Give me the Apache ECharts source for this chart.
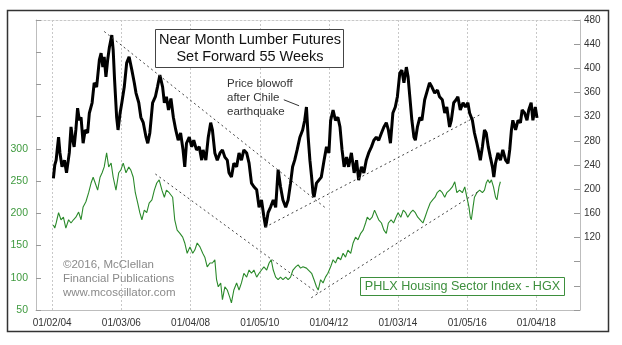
<!DOCTYPE html>
<html><head><meta charset="utf-8">
<script src="https://cdn.jsdelivr.net/npm/echarts@6/dist/echarts.min.js"></script>
<style>html,body{margin:0;padding:0;background:#fff}#c{width:622px;height:345px}</style>
</head><body><div id="c"></div>
<script>
const FONT = '"Liberation Sans", Arial, sans-serif';
const tickLabels = ['01/02/04','01/03/06','01/04/08','01/05/10','01/04/12','01/03/14','01/05/16','01/04/18'];
const tickYears = [2004.003, 2006.005, 2008.008, 2010.011, 2012.008, 2014.005, 2016.011, 2018.008];
const leftTicksLabelled = [50, 100, 150, 200, 250, 300];
const rightTicksLabelled = [120, 160, 200, 240, 280, 320, 360, 400, 440, 480];

// Near month lumber futures, set forward 55 weeks (right axis)
const lumber = [[2004.04,218],[2004.08,240],[2004.12,248],[2004.15,265],[2004.19,286],[2004.23,260],[2004.29,237],[2004.36,248],[2004.42,227],[2004.50,260],[2004.55,303],[2004.60,281],[2004.64,270],[2004.69,298],[2004.74,334],[2004.79,314],[2004.84,319],[2004.90,276],[2004.96,298],[2005.03,293],[2005.08,326],[2005.16,343],[2005.22,376],[2005.29,369],[2005.37,414],[2005.42,425],[2005.47,402],[2005.51,419],[2005.56,386],[2005.61,414],[2005.66,435],[2005.73,455],[2005.77,430],[2005.81,381],[2005.87,319],[2005.91,298],[2005.97,326],[2006.02,343],[2006.09,369],[2006.16,409],[2006.23,419],[2006.31,397],[2006.38,376],[2006.43,359],[2006.51,343],[2006.57,319],[2006.64,310],[2006.72,286],[2006.77,276],[2006.83,293],[2006.91,343],[2006.99,353],[2007.05,369],[2007.12,389],[2007.20,369],[2007.25,343],[2007.31,353],[2007.37,331],[2007.44,350],[2007.51,319],[2007.58,298],[2007.65,281],[2007.72,293],[2007.79,265],[2007.84,237],[2007.89,276],[2007.97,286],[2008.04,270],[2008.10,281],[2008.18,265],[2008.26,270],[2008.33,248],[2008.37,265],[2008.45,248],[2008.52,286],[2008.59,310],[2008.64,298],[2008.71,260],[2008.78,248],[2008.86,260],[2008.93,265],[2009.00,253],[2009.07,248],[2009.12,227],[2009.19,220],[2009.26,243],[2009.34,237],[2009.41,260],[2009.48,248],[2009.55,265],[2009.63,260],[2009.70,243],[2009.77,210],[2009.84,204],[2009.92,199],[2009.99,170],[2010.06,182],[2010.13,154],[2010.18,137],[2010.25,161],[2010.32,170],[2010.40,182],[2010.47,170],[2010.54,232],[2010.61,204],[2010.68,182],[2010.76,170],[2010.83,182],[2010.90,210],[2010.96,237],[2011.02,248],[2011.09,265],[2011.17,286],[2011.25,298],[2011.31,314],[2011.36,336],[2011.38,339],[2011.41,286],[2011.46,248],[2011.51,220],[2011.55,194],[2011.58,187],[2011.65,210],[2011.72,215],[2011.79,220],[2011.87,248],[2011.94,270],[2012.01,260],[2012.06,314],[2012.13,331],[2012.20,314],[2012.27,319],[2012.33,303],[2012.39,265],[2012.45,237],[2012.52,253],[2012.58,237],[2012.66,260],[2012.74,227],[2012.81,248],[2012.87,215],[2012.95,237],[2013.02,227],[2013.09,248],[2013.16,260],[2013.24,270],[2013.31,281],[2013.38,286],[2013.45,281],[2013.53,293],[2013.60,303],[2013.67,310],[2013.73,298],[2013.79,276],[2013.86,326],[2013.93,336],[2013.99,353],[2014.06,392],[2014.12,397],[2014.18,376],[2014.25,402],[2014.30,386],[2014.35,353],[2014.41,314],[2014.47,286],[2014.51,281],[2014.57,303],[2014.64,319],[2014.70,314],[2014.78,348],[2014.86,364],[2014.92,376],[2014.99,369],[2015.07,359],[2015.15,364],[2015.21,353],[2015.29,348],[2015.36,326],[2015.42,336],[2015.50,303],[2015.55,314],[2015.62,343],[2015.69,348],[2015.74,353],[2015.81,331],[2015.89,343],[2015.96,336],[2016.03,343],[2016.08,326],[2016.16,314],[2016.22,293],[2016.29,276],[2016.35,260],[2016.39,248],[2016.45,270],[2016.51,298],[2016.56,293],[2016.62,270],[2016.68,253],[2016.74,237],[2016.78,220],[2016.83,243],[2016.90,260],[2016.97,248],[2017.04,265],[2017.12,248],[2017.19,243],[2017.24,265],[2017.29,298],[2017.33,314],[2017.41,298],[2017.48,314],[2017.55,310],[2017.60,331],[2017.67,326],[2017.74,314],[2017.79,331],[2017.86,343],[2017.91,314],[2017.98,336],[2018.03,318]];

// PHLX Housing Sector Index - HGX (left axis)
const hgx = [[2004.04,182],[2004.08,177],[2004.12,185],[2004.19,201],[2004.26,190],[2004.33,194],[2004.40,177],[2004.48,190],[2004.55,185],[2004.62,190],[2004.69,194],[2004.77,202],[2004.84,190],[2004.90,210],[2004.98,218],[2005.06,232],[2005.13,247],[2005.19,256],[2005.25,247],[2005.32,236],[2005.39,256],[2005.45,263],[2005.51,272],[2005.58,294],[2005.64,272],[2005.71,278],[2005.77,256],[2005.85,236],[2005.93,263],[2005.99,267],[2006.06,278],[2006.14,263],[2006.22,272],[2006.28,267],[2006.35,256],[2006.41,232],[2006.48,216],[2006.54,201],[2006.60,190],[2006.67,205],[2006.74,201],[2006.81,216],[2006.89,221],[2006.96,236],[2007.03,247],[2007.10,252],[2007.18,236],[2007.25,225],[2007.31,236],[2007.39,232],[2007.49,225],[2007.55,190],[2007.62,174],[2007.70,169],[2007.78,163],[2007.84,154],[2007.91,138],[2007.99,148],[2008.07,138],[2008.13,143],[2008.20,154],[2008.28,148],[2008.36,138],[2008.42,132],[2008.49,117],[2008.57,123],[2008.64,123],[2008.71,128],[2008.76,97],[2008.81,86],[2008.88,92],[2008.93,66],[2009.00,86],[2009.07,81],[2009.14,70],[2009.19,61],[2009.26,81],[2009.34,92],[2009.41,81],[2009.48,92],[2009.55,107],[2009.63,101],[2009.70,112],[2009.77,107],[2009.84,112],[2009.92,101],[2009.99,107],[2010.06,112],[2010.13,117],[2010.21,112],[2010.28,123],[2010.34,128],[2010.40,112],[2010.47,101],[2010.54,97],[2010.61,101],[2010.68,97],[2010.76,101],[2010.83,97],[2010.90,101],[2010.97,112],[2011.05,117],[2011.12,120],[2011.19,115],[2011.26,117],[2011.36,115],[2011.41,112],[2011.51,107],[2011.58,97],[2011.65,86],[2011.70,81],[2011.77,97],[2011.84,92],[2011.91,101],[2011.98,107],[2012.06,117],[2012.13,128],[2012.20,123],[2012.27,132],[2012.35,128],[2012.42,138],[2012.49,132],[2012.56,143],[2012.64,138],[2012.71,154],[2012.78,163],[2012.85,159],[2012.93,169],[2013.00,174],[2013.07,185],[2013.12,194],[2013.19,190],[2013.26,194],[2013.33,205],[2013.38,208],[2013.45,190],[2013.53,185],[2013.60,174],[2013.67,169],[2013.73,185],[2013.81,190],[2013.88,185],[2013.95,194],[2014.01,201],[2014.09,194],[2014.16,205],[2014.23,201],[2014.29,194],[2014.37,201],[2014.44,205],[2014.51,201],[2014.58,194],[2014.65,190],[2014.73,185],[2014.79,194],[2014.86,205],[2014.94,216],[2015.01,221],[2015.08,225],[2015.14,232],[2015.22,236],[2015.29,232],[2015.36,225],[2015.42,232],[2015.50,236],[2015.58,241],[2015.65,249],[2015.71,232],[2015.79,236],[2015.87,232],[2015.94,241],[2016.00,225],[2016.06,210],[2016.10,194],[2016.13,190],[2016.18,210],[2016.22,225],[2016.29,232],[2016.37,236],[2016.45,232],[2016.51,236],[2016.56,247],[2016.61,252],[2016.66,247],[2016.71,252],[2016.77,241],[2016.83,225],[2016.87,221],[2016.93,241],[2016.97,249]];

// dotted trend lines
const lumberResistance = [[2005.51,461],[2011.89,170]];
const lumberSupport = [[2010.16,137],[2016.37,323]];
const hgxResistance = [[2006.99,261],[2011.69,76]];
const hgxSupport = [[2011.50,69],[2016.31,233]];
// pointer of the "Price blowoff" note (lumber axis)
const blowoffPointer = [[2010.705,348],[2011.147,338]];

const chart = echarts.init(document.getElementById('c'), null, {renderer: 'canvas'});
const dotted = (data, yIdx) => ({
  type: 'line', data, yAxisIndex: yIdx, showSymbol: false, silent: true, z: 4,
  lineStyle: {color: '#444', width: 1, type: [2, 3]}
});
chart.setOption({
  animation: false,
  backgroundColor: '#fff',
  textStyle: {fontFamily: FONT},
  grid: {left: 36, right: 42, top: 20, bottom: 35, containLabel: false},
  xAxis: [{
    type: 'value', min: 2003.537, max: 2019.273,
    axisLine: {show: true, lineStyle: {color: '#bdbdbd', width: 1}},
    axisTick: {show: false, customValues: tickYears},
    axisLabel: {
      customValues: tickYears, color: '#333', fontSize: 10, fontFamily: FONT, margin: 8,
      formatter: v => { const i = tickYears.findIndex(t => Math.abs(t - v) < 0.01); return i >= 0 ? tickLabels[i] : ''; }
    },
    splitLine: {show: true, lineStyle: {color: '#c8c8c8', type: [2, 2], width: 1}}
  }, {
    type: 'value', position: 'top', min: 2003.537, max: 2019.273,
    axisLine: {show: true, lineStyle: {color: '#c8c8c8', type: [2, 2]}},
    axisTick: {show: false}, axisLabel: {show: false}, splitLine: {show: false}
  }],
  yAxis: [{
    type: 'value', position: 'left', min: 50, max: 500, interval: 50,
    axisLine: {show: true, lineStyle: {color: '#bdbdbd'}},
    axisTick: {show: true, inside: true, length: 5, lineStyle: {color: '#999'}},
    axisLabel: {color: '#3f9a3f', fontSize: 10.5, fontFamily: FONT, margin: 8,
      formatter: v => leftTicksLabelled.includes(v) ? String(v) : ''},
    splitLine: {show: false}
  }, {
    type: 'value', position: 'right', min: 0, max: 480, interval: 40,
    axisLine: {show: true, lineStyle: {color: '#bdbdbd'}},
    axisTick: {show: true, inside: true, length: 6, lineStyle: {color: '#999'}},
    axisLabel: {color: '#333', fontSize: 10, fontFamily: FONT, margin: 4,
      formatter: v => rightTicksLabelled.includes(v) ? String(v) : ''},
    splitLine: {show: false}
  }],
  series: [
    {name: 'HGX', type: 'line', data: hgx, yAxisIndex: 0, showSymbol: false, z: 3,
      lineStyle: {color: '#2b8a2b', width: 1.1}},
    {name: 'Lumber', type: 'line', data: lumber, yAxisIndex: 1, showSymbol: false, z: 3,
      lineStyle: {color: '#000', width: 3}},
    dotted(lumberResistance, 1),
    dotted(lumberSupport, 1),
    dotted(hgxResistance, 0),
    dotted(hgxSupport, 0),
    {type: 'line', data: blowoffPointer, yAxisIndex: 1, showSymbol: false, silent: true, z: 4,
      lineStyle: {color: '#333', width: 1}}
  ],
  graphic: [
    {type: 'rect', z: 100, shape: {x: 7.5, y: 10.5, width: 601, height: 321},
      style: {fill: 'none', stroke: '#333', lineWidth: 1.5}},
    {type: 'rect', z: 100, shape: {x: 155.5, y: 29.5, width: 188, height: 38},
      style: {fill: '#fff', stroke: '#444', lineWidth: 1}},
    {type: 'text', z: 101, x: 250, y: 48,
      style: {text: 'Near Month Lumber Futures\nSet Forward 55 Weeks', fill: '#111', font: '14.5px ' + FONT,
        align: 'center', verticalAlign: 'middle', lineHeight: 17}},
    {type: 'text', z: 101, x: 227, y: 77,
      style: {text: 'Price blowoff\nafter Chile\nearthquake', fill: '#333', font: '11.5px ' + FONT,
        align: 'left', verticalAlign: 'top', lineHeight: 14}},
    {type: 'rect', z: 100, shape: {x: 360.5, y: 277.5, width: 204, height: 18},
      style: {fill: '#fff', stroke: '#3d8f3d', lineWidth: 1}},
    {type: 'text', z: 101, x: 462.5, y: 286.5,
      style: {text: 'PHLX Housing Sector Index - HGX', fill: '#3d8f3d', font: '12.6px ' + FONT,
        align: 'center', verticalAlign: 'middle'}},
    {type: 'text', z: 101, x: 63, y: 258,
      style: {text: '©2016, McClellan\nFinancial Publications\nwww.mcoscillator.com', fill: '#8a8a8a',
        font: '11.5px ' + FONT, align: 'left', verticalAlign: 'top', lineHeight: 14}}
  ]
});
</script>
</body></html>
